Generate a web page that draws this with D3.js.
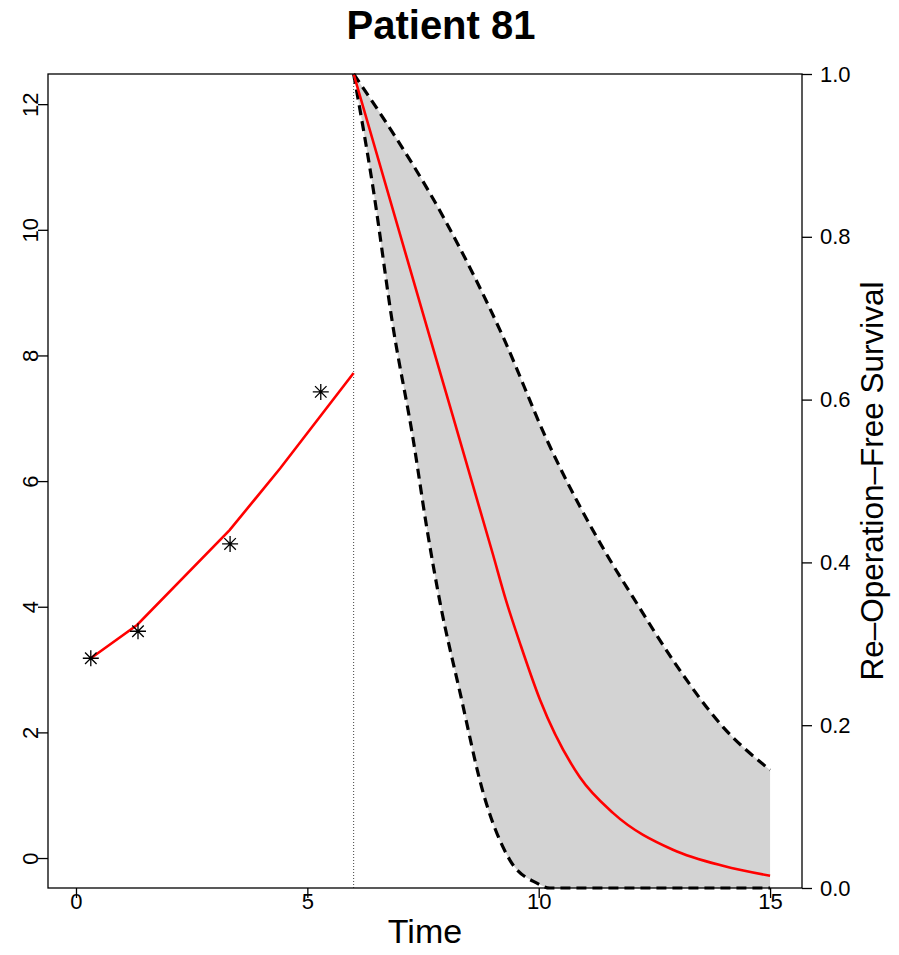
<!DOCTYPE html>
<html>
<head>
<meta charset="utf-8">
<script src="https://cdn.jsdelivr.net/npm/d3@7"></script>
<style>
  body { margin: 0; background: #fff; }
  svg { font-family: 'Liberation Sans', Arial, sans-serif; }
</style>
</head>
<body>
<div id="chart"></div>
<script>
// observed measurements
const obsTimes = [0.32, 1.34, 3.33, 5.29]
const obsValues = [3.18, 3.61, 5.0, 7.42]

// fitted longitudinal trajectory
const fitTimes = [0.32, 1.32, 3.32, 4.41, 6.0]
const fitValues = [3.18, 3.71, 5.22, 6.2, 7.72]

// predicted survival (mean)
const survTimes = [6.0, 7.65, 9.01, 9.29, 9.6, 10.03, 10.89, 11.61, 12.9, 14.0, 15.0]
const survValues = [1.0, 0.676, 0.41, 0.354, 0.3, 0.231, 0.136, 0.092, 0.047, 0.027, 0.015]

// upper band
const upperTimes = [6.0, 6.57, 7.97, 9.23, 10.18, 11.54, 12.04, 12.9, 13.98, 15.0]
const upperValues = [1.0, 0.952, 0.821, 0.677, 0.55, 0.403, 0.357, 0.28, 0.198, 0.145]

// lower band
const lowerTimes = [6.0, 6.42, 6.85, 7.29, 7.58, 7.87, 8.3, 8.8, 9.38, 9.96, 10.24, 15.0]
const lowerValues = [1.0, 0.86, 0.69, 0.55, 0.443, 0.35, 0.24, 0.117, 0.034, 0.006, 0.0, 0.0]

const lastTime = 6.0
const leftTicks = [0, 2, 4, 6, 8, 10, 12]
const bottomTicks = [0, 5, 10, 15]
const rightTicks = [0, 0.2, 0.4, 0.6, 0.8, 1.0]

const width = 899
const height = 955
const margin = { top: 74, left: 48, right: 97, bottom: 67 }

const svg = d3
  .select('#chart')
  .append('svg')
  .attr('width', width)
  .attr('height', height)

const x = d3
  .scaleLinear()
  .domain([-0.605, 15.69])
  .range([margin.left, width - margin.right])
const yL = d3
  .scaleLinear()
  .domain([-0.477, 12.48])
  .range([height - margin.bottom, margin.top])
const yR = d3
  .scaleLinear()
  .domain([0, 1])
  .range([height - margin.bottom, margin.top])

const zip = (a, b) => a.map((d, i) => [d, b[i]])

const survLine = d3
  .line()
  .x(d => x(d[0]))
  .y(d => yR(d[1]))
  .curve(d3.curveMonotoneX)

// shaded band
const upperPts = zip(upperTimes, upperValues)
const lowerPts = zip(lowerTimes, lowerValues)
svg
  .append('path')
  .attr('d', survLine(upperPts) + 'L' + survLine(lowerPts.slice().reverse()).slice(1) + 'Z')
  .attr('fill', '#d3d3d3')
  .attr('stroke', 'none')

// band limits
svg
  .selectAll('.band')
  .data([upperPts, lowerPts])
  .enter()
  .append('path')
  .attr('class', 'band')
  .attr('d', survLine)
  .attr('fill', 'none')
  .attr('stroke', '#000')
  .attr('stroke-width', 3.2)
  .attr('stroke-dasharray', '10,6')

// mean survival
svg
  .append('path')
  .attr('d', survLine(zip(survTimes, survValues)))
  .attr('fill', 'none')
  .attr('stroke', 'red')
  .attr('stroke-width', 2.6)

// last observation time
svg
  .append('line')
  .attr('x1', x(lastTime))
  .attr('x2', x(lastTime))
  .attr('y1', margin.top)
  .attr('y2', height - margin.bottom)
  .attr('stroke', '#444')
  .attr('stroke-width', 1)
  .attr('stroke-dasharray', '1,2')

// fitted trajectory
svg
  .append('path')
  .attr(
    'd',
    d3
      .line()
      .x(d => x(d[0]))
      .y(d => yL(d[1]))(zip(fitTimes, fitValues))
  )
  .attr('fill', 'none')
  .attr('stroke', 'red')
  .attr('stroke-width', 2.6)

// observed points (asterisks)
const s = 8
const d2 = s * 0.72
svg
  .selectAll('.obs')
  .data(zip(obsTimes, obsValues))
  .enter()
  .append('path')
  .attr('class', 'obs')
  .attr('transform', d => `translate(${x(d[0])},${yL(d[1])})`)
  .attr(
    'd',
    `M${-s},0L${s},0M0,${-s}L0,${s}M${-d2},${-d2}L${d2},${d2}M${-d2},${d2}L${d2},${-d2}`
  )
  .attr('stroke', '#000')
  .attr('stroke-width', 1.3)
  .attr('fill', 'none')

// frame
svg
  .append('rect')
  .attr('x', margin.left)
  .attr('y', margin.top)
  .attr('width', width - margin.left - margin.right)
  .attr('height', height - margin.top - margin.bottom)
  .attr('fill', 'none')
  .attr('stroke', '#000')
  .attr('stroke-width', 1.3)

// axes
const left = svg
  .append('g')
  .attr('transform', `translate(${margin.left},0)`)
  .call(d3.axisLeft(yL).tickValues(leftTicks).tickSize(10))
left
  .selectAll('text')
  .attr('x', 0)
  .attr('y', 0)
  .attr('dy', 0)
  .attr('text-anchor', 'middle')
  .attr('transform', 'translate(-10,0) rotate(-90)')

const bottom = svg
  .append('g')
  .attr('transform', `translate(0,${height - margin.bottom})`)
  .call(d3.axisBottom(x).tickValues(bottomTicks).tickSize(10))
bottom.selectAll('text').attr('y', 5)

const right = svg
  .append('g')
  .attr('transform', `translate(${width - margin.right},0)`)
  .call(
    d3
      .axisRight(yR)
      .tickValues(rightTicks)
      .tickSize(10)
      .tickPadding(8)
      .tickFormat(d3.format('.1f'))
  )

;[left, bottom, right].forEach(g => {
  g.select('.domain').remove()
  g.selectAll('line').attr('stroke', '#000').attr('stroke-width', 1.3)
  g.selectAll('text')
    .attr('fill', '#000')
    .style('font-size', '22px')
    .style('font-family', "'Liberation Sans', Arial, sans-serif")
})

// titles
svg
  .append('text')
  .text('Patient 81')
  .attr('x', 441)
  .attr('y', 39)
  .attr('text-anchor', 'middle')
  .style('font-size', '40px')
  .style('font-weight', 'bold')

svg
  .append('text')
  .text('Time')
  .attr('x', (margin.left + width - margin.right) / 2)
  .attr('y', 943)
  .attr('text-anchor', 'middle')
  .style('font-size', '34px')

svg
  .append('text')
  .text('Re–Operation–Free Survival')
  .attr('text-anchor', 'middle')
  .attr('transform', `translate(883,${(margin.top + height - margin.bottom) / 2}) rotate(-90)`)
  .style('font-size', '31.5px')
</script>
</body>
</html>
